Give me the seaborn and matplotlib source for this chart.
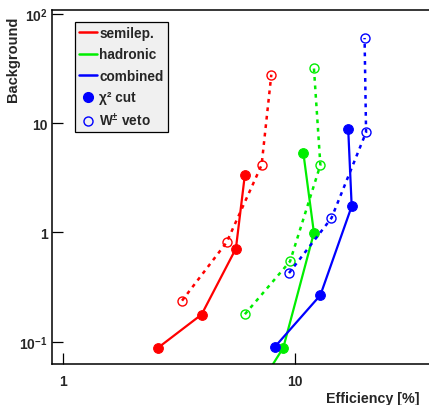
import numpy as np
import pandas as pd
import matplotlib
matplotlib.use("Agg")
import matplotlib.pyplot as plt
import seaborn as sns
from matplotlib.lines import Line2D
from matplotlib.ticker import FixedLocator, FuncFormatter, NullFormatter

# ---- data ----
semilep_chi2_eff = [2.58, 3.97, 5.58, 6.1]
semilep_chi2_bkg = [0.088, 0.177, 0.71, 3.37]
semilep_veto_eff = [3.27, 5.09, 7.2, 7.93]
semilep_veto_bkg = [0.237, 0.81, 4.13, 27.7]

hadronic_chi2_eff = [6.5, 8.93, 12.1, 10.9]
hadronic_chi2_bkg = [0.03, 0.088, 0.99, 5.3]
hadronic_veto_eff = [6.1, 9.55, 12.9, 12.1]
hadronic_veto_bkg = [0.178, 0.543, 4.13, 31.9]

combined_chi2_eff = [8.23, 12.9, 17.6, 17.0]
combined_chi2_bkg = [0.09, 0.266, 1.73, 8.87]
combined_veto_eff = [9.45, 14.4, 20.3, 20.0]
combined_veto_bkg = [0.424, 1.35, 8.22, 60.0]

legend_labels = ["semilep.", "hadronic", "combined", "χ² cut", r"W$^{\pm}$ veto"]

sns.set_style("white")
plt.rcParams["font.family"] = ["Liberation Sans", "DejaVu Sans"]
plt.rcParams["font.weight"] = "bold"
plt.rcParams["mathtext.fontset"] = "custom"
plt.rcParams["mathtext.rm"] = "Liberation Sans:bold"
plt.rcParams["mathtext.it"] = "Liberation Serif:italic"
plt.rcParams["mathtext.bf"] = "Liberation Sans:bold"

fig = plt.figure(figsize=(4.29, 4.06), dpi=100)
ax = fig.add_axes([52/429, 1-365/406, 1-52/429, (365-10.7)/406])

RED, GREEN, BLUE = "#ff0000", "#00ee00", "#0000ff"
series = [
    (semilep_chi2_eff, semilep_chi2_bkg, semilep_veto_eff, semilep_veto_bkg, RED),
    (hadronic_chi2_eff, hadronic_chi2_bkg, hadronic_veto_eff, hadronic_veto_bkg, GREEN),
    (combined_chi2_eff, combined_chi2_bkg, combined_veto_eff, combined_veto_bkg, BLUE),
]
dash = (0, (1.5, 1.9))
for ce, cb, ve, vb, col in series:
    df_v = pd.DataFrame({"eff": ve, "bkg": vb})
    sns.lineplot(data=df_v, x="eff", y="bkg", sort=False, estimator=None, ax=ax,
                 color=col, lw=1.8, linestyle=dash, marker="o", markersize=6.5,
                 markerfacecolor="none", markeredgecolor=col, markeredgewidth=1.0)
    df_c = pd.DataFrame({"eff": ce, "bkg": cb})
    sns.lineplot(data=df_c, x="eff", y="bkg", sort=False, estimator=None, ax=ax,
                 color=col, lw=1.6, marker="o", markersize=7, markeredgecolor=col,
                 markerfacecolor=col)

ax.set_xscale("log")
ax.set_yscale("log")
ax.set_xlim(0.9, 37.9)
ax.set_ylim(0.0624, 108.9)
ax.set_xlabel("")
ax.set_ylabel("")

ax.xaxis.set_major_locator(FixedLocator([1, 10]))
ax.xaxis.set_minor_locator(FixedLocator([2, 3, 4, 5, 6, 7, 8, 9, 20, 30]))
ax.xaxis.set_major_formatter(FuncFormatter(lambda v, p: {1: "1", 10: "10"}.get(int(round(v)), "")))
ax.xaxis.set_minor_formatter(NullFormatter())
ylabs = {-1: r"10$^{-1}$", 0: "1", 1: "10", 2: r"10$^{2}$"}
ax.yaxis.set_major_locator(FixedLocator([0.1, 1, 10, 100]))
ax.yaxis.set_minor_locator(FixedLocator([m * 10.0**k for k in (-2, -1, 0, 1) for m in range(2, 10)]))
ax.yaxis.set_major_formatter(FuncFormatter(lambda v, p: ylabs.get(int(round(np.log10(v))), "")))
ax.yaxis.set_minor_formatter(NullFormatter())

ax.tick_params(which="major", direction="in", length=8, width=0.9, labelsize=10, color="black")
ax.tick_params(which="minor", direction="in", length=3.8, width=0.9, color="black")
ax.tick_params(axis="x", which="major", pad=7.5)
ax.tick_params(axis="y", which="major", pad=3)
for lab in ax.get_xticklabels() + ax.get_yticklabels():
    lab.set_fontweight("bold")
for s in ["left", "bottom", "top"]:
    ax.spines[s].set_color("black")
    ax.spines[s].set_linewidth(1.1)
ax.spines["right"].set_visible(False)
ax.tick_params(left=True, bottom=True, top=False, right=False)

fig.text(13/429, 1-17/406, "Background", rotation=90, ha="center", va="top",
         fontsize=10.5, fontweight="bold")
fig.text(420/429, 1-399/406, "Efficiency [%]", ha="right", va="center",
         fontsize=10.3, fontweight="bold")

handles = [
    Line2D([], [], color=RED, lw=1.8),
    Line2D([], [], color=GREEN, lw=1.8),
    Line2D([], [], color=BLUE, lw=1.8),
    Line2D([], [], color=BLUE, lw=0, marker="o", markersize=7),
    Line2D([], [], color=BLUE, lw=0, marker="o", markersize=6.5, markerfacecolor="none",
           markeredgewidth=1.0),
]
leg = ax.legend(handles, legend_labels, loc="upper left", bbox_to_anchor=(0.061, 0.966),
                borderaxespad=0, frameon=True, fancybox=False, edgecolor="black",
                facecolor="#f0f0f0", framealpha=1, handlelength=1.35, handletextpad=0.15,
                labelspacing=0.55, borderpad=0.3, prop={"weight": "bold", "size": 9.8})
leg.get_frame().set_linewidth(0.9)

fig.savefig("out.png", dpi=100)
